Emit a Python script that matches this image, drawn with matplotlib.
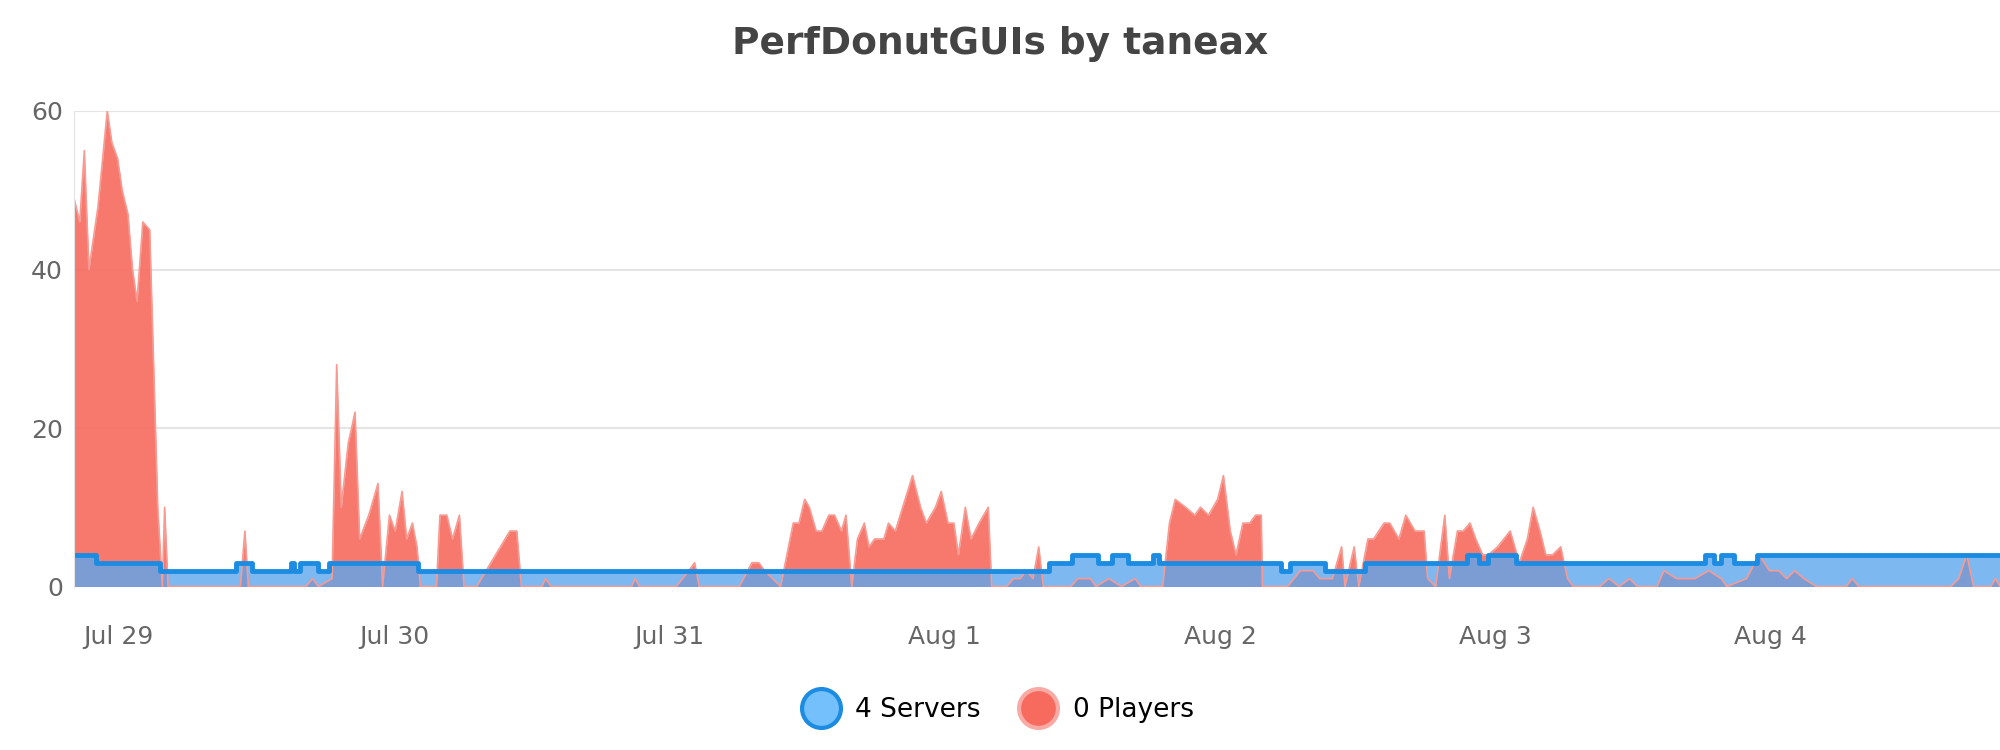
import matplotlib
matplotlib.use("Agg")
import matplotlib.pyplot as plt
from matplotlib.lines import Line2D

# hours relative to Jul 29 00:00
player_hours = [-3.9,-3.4,-3,-2.6,-1.8,-1,-0.6,-0.1,0.3,0.8,1.2,1.6,2.1,2.7,3.4,3.8,4,4.3,10.6,11,11.3,16.3,16.9,17.4,18.6,19,19.4,20,20.6,21,21.8,22.6,23,23.6,24.1,24.7,25.1,25.6,26,26.3,27.7,28,28.6,29.1,29.7,30.1,31.2,34.1,34.7,35.1,36.9,37.2,37.7,44.7,45,45.4,48.6,49.7,50.2,50.6,54.1,55.2,55.8,56.3,57.7,58.8,59.3,59.8,60.2,60.8,61.3,61.9,62.4,63,63.4,63.9,64.4,65,65.4,65.9,66.7,67.1,67.7,69.2,69.9,70.4,71.2,71.7,72.3,72.8,73.2,73.8,74.3,75,75.8,76.1,77.4,78,78.6,79.1,79.7,80.2,80.6,83,83.6,84.7,85.2,86.3,87.4,88.6,89.1,91,91.6,92.1,93,93.8,94.3,95,95.8,96.3,96.9,97.4,98,98.6,99.1,99.6,99.7,101.9,103,104.1,104.7,105.8,106.6,106.9,107.7,108.1,108.9,109.4,110.3,110.8,111.6,112.2,113,113.8,114.1,114.8,115.6,116,116.7,117.2,117.8,118.3,118.9,119.4,120.2,121.3,122.1,122.8,123.3,123.9,124.4,125,125.7,126.3,126.8,129.1,129.9,130.8,131.7,132.4,134.1,134.7,135.8,137.4,138.6,139.7,140.2,141.9,143,143.9,144.7,145.4,146.1,146.9,148,150.6,151.1,151.7,159.7,160.4,161.1,161.7,163.2,163.6,164]
players = [49,46,55,40,48,60,56,54,50,47,40,36,46,45,10,0,10,0,0,7,0,0,1,0,1,28,10,18,22,6,9,13,0,9,7,12,6,8,5,0,0,9,9,6,9,0,0,7,7,0,0,1,0,0,1,0,0,2,3,0,0,3,3,2,0,8,8,11,10,7,7,9,9,7,9,0,6,8,5,6,6,8,7,14,10,8,10,12,8,8,4,10,6,8,10,0,0,1,1,2,1,5,0,0,1,1,0,1,0,1,0,0,8,11,10,9,10,9,11,14,7,4,8,8,9,9,0,0,2,2,1,1,5,0,5,0,6,6,8,8,6,9,7,7,1,0,9,1,7,7,8,6,4,4,5,7,3,6,10,7,4,4,5,1,0,0,1,0,1,0,0,2,1,1,2,1,0,1,4,2,2,1,2,1,0,0,1,0,0,1,4,0,0,1,0]

server_hours = [-3.9,-2,3.6,10.2,11.6,15,15.3,15.8,17.4,18.3,26.1,81.1,83.1,85.4,86.6,88,90.2,90.7,101.3,102.1,105.2,108.6,117.5,118.6,119.4,121.8,138.3,139.1,139.7,140.8,142.8,164]
servers = [4,3,2,3,2,3,2,3,2,3,2,3,4,3,4,3,4,3,2,3,2,3,4,3,4,3,4,3,4,3,4,4]

day_ticks = [0,24,48,72,96,120,144]
day_labels = ["Jul 29","Jul 30","Jul 31","Aug 1","Aug 2","Aug 3","Aug 4"]

fig = plt.figure(figsize=(20,7.5), dpi=100)
ax = fig.add_axes([0.037,0.218,0.963,0.634])

ax.fill_between(player_hours, players, color="#f76b5e", alpha=0.9, lw=0)
ax.plot(player_hours, players, color="#f79a92", lw=1.2)
ax.fill_between(server_hours, servers, step="post", color="#5ea6ee", alpha=0.8, lw=0)
ax.plot(server_hours, servers, drawstyle="steps-post", color="#1c8ce3", lw=3.5)

ax.set_xlim(-3.9,164)
ax.set_ylim(0,60)
ax.set_yticks([0,20,40,60])
ax.yaxis.grid(True, color="#e4e4e4", lw=1.5)
ax.set_axisbelow(True)
ax.set_xticks(day_ticks)
ax.set_xticklabels(day_labels)
ax.tick_params(axis="both", length=0, labelsize=18, colors="#666666")
ax.tick_params(axis="x", pad=28)
ax.tick_params(axis="y", pad=8)
for s in ["top","right","bottom"]:
    ax.spines[s].set_visible(False)
ax.spines["left"].set_color("#e4e4e4")

fig.suptitle("PerfDonutGUIs by taneax", y=0.965, fontsize=27, fontweight="bold", color="#444444")

handles = [Line2D([],[],marker="o",ls="",ms=28,markerfacecolor="#74c0fc",markeredgecolor="#1c8ce3",markeredgewidth=3),
           Line2D([],[],marker="o",ls="",ms=28,markerfacecolor="#f76b5e",markeredgecolor="#f9aaa4",markeredgewidth=3)]
fig.legend(handles, ["4 Servers","0 Players"], loc="center", bbox_to_anchor=(0.497,0.053), ncol=2,
           frameon=False, fontsize=19, handletextpad=0.3, columnspacing=1.2)

fig.savefig("out.png", dpi=100)
